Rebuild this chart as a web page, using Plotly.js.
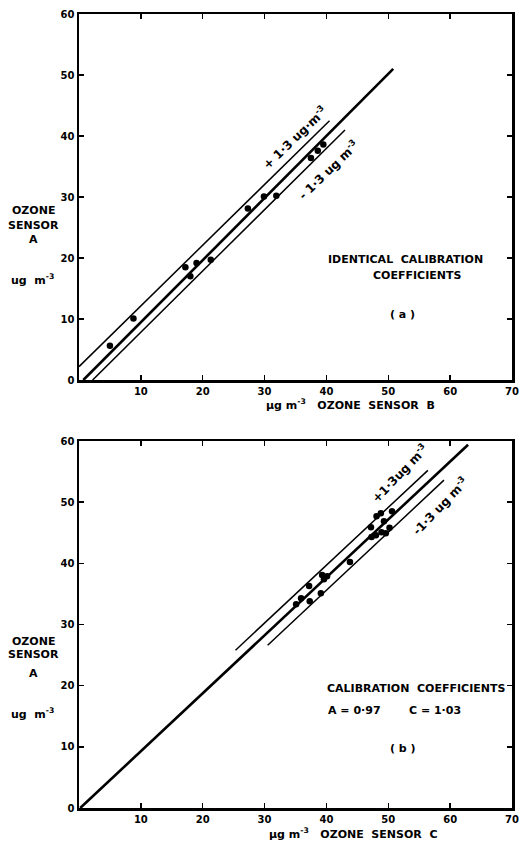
<!DOCTYPE html>
<html>
<head>
<meta charset="utf-8">
<script src="https://cdn.plot.ly/plotly-3.0.1.min.js"></script>
<style>html,body{margin:0;padding:0;background:#fff;}#chart{width:526px;height:841px;}</style>
</head>
<body>
<div id="chart"></div>
<script>
// Panel (a): sensor B vs sensor A
const aSensorB = [5.0, 8.8, 17.2, 18.0, 19.0, 21.3, 27.3, 29.9, 31.9, 37.5, 38.6, 39.5];
const aSensorA = [5.6, 10.1, 18.5, 17.0, 19.2, 19.7, 28.1, 30.1, 30.2, 36.4, 37.6, 38.6];
const aFitX = [0.7, 50.8];
const aFitY = [0, 51];
const aUpperX = [0, 40.5];
const aUpperY = [2.2, 42.5];
const aLowerX = [2.2, 43];
const aLowerY = [0, 41];

// Panel (b): sensor C vs sensor A
const bSensorC = [35.1, 35.9, 37.2, 37.3, 39.1, 39.3, 40.1, 39.6, 43.8, 47.2, 48.1, 48.8, 49.3, 50.6, 47.3, 48.0, 48.9, 49.6, 50.2];
const bSensorA = [33.3, 34.3, 36.3, 33.8, 35.1, 38.1, 37.9, 37.4, 40.2, 45.9, 47.7, 48.2, 46.9, 48.5, 44.3, 44.6, 45.1, 44.9, 45.8];
const bFitX = [0.2, 62.9];
const bFitY = [0, 59.4];
const bUpperX = [25.3, 56.4];
const bUpperY = [25.8, 55.2];
const bLowerX = [30.5, 59.0];
const bLowerY = [26.6, 53.6];

const xTicks = [10, 20, 30, 40, 50, 60, 70];
const yTicks = [0, 10, 20, 30, 40, 50, 60];

const FONT = {family: 'DejaVu Sans', size: 10, color: '#000', weight: 700};
const TFONT = {family: 'DejaVu Sans', size: 11, color: '#000', weight: 700};
const RFONT = {family: 'DejaVu Sans', size: 12, color: '#000', weight: 700};

function line(x, y, w, xa, ya) {
  return {x: x, y: y, type: 'scatter', mode: 'lines', line: {color: '#000', width: w}, xaxis: xa, yaxis: ya, hoverinfo: 'skip'};
}
function pts(x, y, xa, ya) {
  return {x: x, y: y, type: 'scatter', mode: 'markers', marker: {color: '#000', size: 6.5}, xaxis: xa, yaxis: ya};
}

const data = [
  line(aFitX, aFitY, 2.6, 'x', 'y'),
  line(aUpperX, aUpperY, 1.5, 'x', 'y'),
  line(aLowerX, aLowerY, 1.5, 'x', 'y'),
  pts(aSensorB, aSensorA, 'x', 'y'),
  line(bFitX, bFitY, 2.6, 'x2', 'y2'),
  line(bUpperX, bUpperY, 1.5, 'x2', 'y2'),
  line(bLowerX, bLowerY, 1.5, 'x2', 'y2'),
  pts(bSensorC, bSensorA, 'x2', 'y2')
];

function xaxis(anchor) {
  return {range: [0, 70], tickvals: xTicks, ticks: 'inside', ticklen: 5, tickwidth: 1.5, tickcolor: '#000',
    showline: true, linewidth: 2.5, linecolor: '#000', mirror: 'ticks', showgrid: false, zeroline: false,
    tickfont: FONT, anchor: anchor, fixedrange: true};
}
function yaxis(anchor, domain) {
  return {range: [0, 60], tickvals: yTicks, ticks: 'inside', ticklen: 5, tickwidth: 1.5, tickcolor: '#000',
    showline: true, linewidth: 2.5, linecolor: '#000', mirror: 'ticks', showgrid: false, zeroline: false,
    tickfont: FONT, anchor: anchor, domain: domain, fixedrange: true};
}

function ann(text, x, y, xr, yr, extra) {
  return Object.assign({text: text, x: x, y: y, xref: xr, yref: yr, showarrow: false, font: TFONT,
    xanchor: 'center', yanchor: 'middle'}, extra || {});
}

const annotations = [
  // panel (a)
  ann('IDENTICAL  CALIBRATION', 52.8, 19.8, 'x', 'y'),
  ann('COEFFICIENTS', 54.6, 17.2, 'x', 'y'),
  ann('( a )', 52.3, 10.8, 'x', 'y'),
  ann('+ 1·3 ug·m<sup>-3</sup>', 34.9, 39.8, 'x', 'y', {textangle: -44, font: RFONT}),
  ann('- 1·3 ug m<sup>-3</sup>', 40.2, 34.5, 'x', 'y', {textangle: -44, font: RFONT}),
  ann('µg m<sup>-3</sup>   OZONE  SENSOR  B', 0.628, 0.5076, 'paper', 'paper'),
  ann('OZONE', -0.106, 0.753, 'paper', 'paper'),
  ann('SENSOR', -0.106, 0.734, 'paper', 'paper'),
  ann('A', -0.106, 0.716, 'paper', 'paper'),
  ann('ug  m<sup>-3</sup>', -0.108, 0.665, 'paper', 'paper'),
  // panel (b)
  ann('CALIBRATION  COEFFICIENTS', 54.4, 19.6, 'x2', 'y2'),
  ann('A = 0·97', 39.9, 16.0, 'x2', 'y2', {xanchor: 'left'}),
  ann('C = 1·03', 57.5, 16.0, 'x2', 'y2'),
  ann('( b )', 52.3, 9.8, 'x2', 'y2'),
  ann('+1·3ug m<sup>-3</sup>', 51.8, 54.8, 'x2', 'y2', {textangle: -46, font: RFONT}),
  ann('-1·3 ug m<sup>-3</sup>', 58.3, 49.4, 'x2', 'y2', {textangle: -46, font: RFONT}),
  ann('µg m<sup>-3</sup>   OZONE  SENSOR  C', 0.633, -0.032, 'paper', 'paper'),
  ann('OZONE', -0.106, 0.2094, 'paper', 'paper'),
  ann('SENSOR', -0.106, 0.1927, 'paper', 'paper'),
  ann('A', -0.106, 0.170, 'paper', 'paper'),
  ann('ug  m<sup>-3</sup>', -0.108, 0.1196, 'paper', 'paper')
];

const layout = {
  width: 526, height: 841,
  margin: {l: 79, r: 14, t: 14, b: 33},
  paper_bgcolor: '#fff', plot_bgcolor: '#fff',
  showlegend: false,
  font: FONT,
  xaxis: xaxis('y'),
  yaxis: yaxis('x', [0.539, 1]),
  xaxis2: xaxis('y2'),
  yaxis2: yaxis('x2', [0, 0.4622]),
  annotations: annotations
};

Plotly.newPlot('chart', data, layout, {displayModeBar: false, staticPlot: true});
</script>
</body>
</html>
